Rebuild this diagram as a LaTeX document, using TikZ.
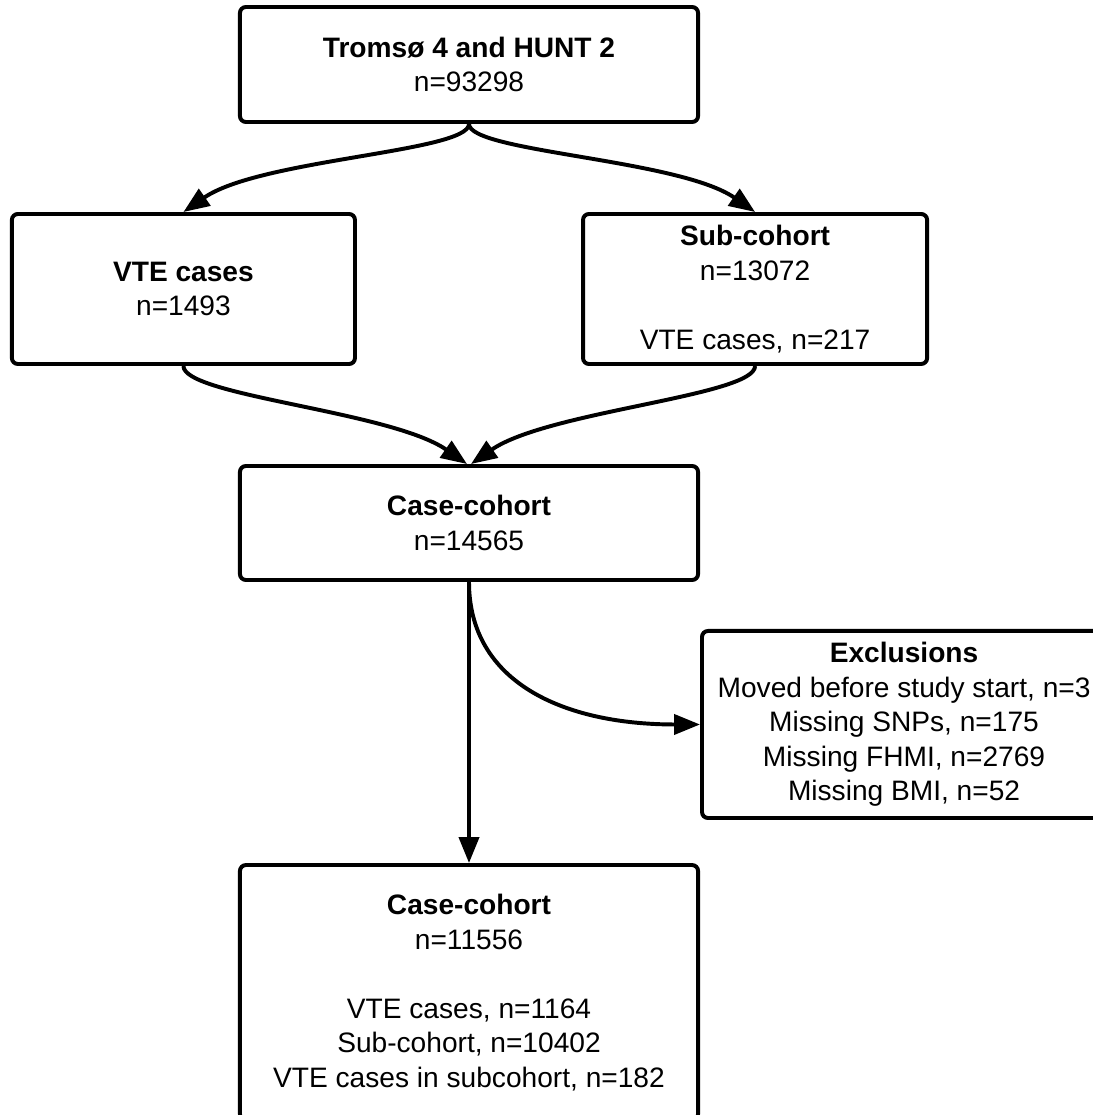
\documentclass[tikz,border=0pt]{standalone}
\usepackage{fontspec}
\setmainfont{Liberation Sans}
\usetikzlibrary{arrows.meta,positioning}

\begin{document}
\begin{tikzpicture}[
  x=0.025cm, y=-0.025cm,
  box/.style={rectangle, rounded corners=0.15cm, draw, line width=2.8pt, align=center, inner sep=0pt, font=\fontsize{20}{24.5}\selectfont},
  arrow/.style={-{Triangle[length=0.65cm, width=0.5cm]}, line width=2.8pt}
]
  \fill[white] (0,0) rectangle (1092,1115);
  \useasboundingbox (0,0) rectangle (1092,1115);
  \node[box, minimum width=11.45cm, minimum height=2.875cm] (tromso) at (469,64.5) {\textbf{Tromsø 4 and HUNT 2}\\n=93298};
  \node[box, minimum width=8.575cm, minimum height=3.75cm, below=2.2cm of tromso, xshift=-7.1375cm] (vte) {\textbf{VTE cases}\\n=1493};
  \node[box, minimum width=8.6cm, minimum height=3.75cm, below=2.2cm of tromso, xshift=7.15cm] (sub) {\textbf{Sub-cohort}\\n=13072\\[24.5pt]VTE cases, n=217};
  \node[box, minimum width=11.45cm, minimum height=2.85cm, below=2.45cm of vte, xshift=7.1375cm] (cc1) {\textbf{Case-cohort}\\n=14565};
  \node[box, minimum width=10.1cm, minimum height=4.675cm, below=1.175cm of cc1.south east, anchor=north west] (excl) {\textbf{Exclusions}\\Moved before study start, n=3\\Missing SNPs, n=175\\Missing FHMI, n=2769\\Missing BMI, n=52};
  \node[box, minimum width=11.45cm, minimum height=6.375cm, below=7.025cm of cc1] (cc2) {\textbf{Case-cohort}\\n=11556\\[24.5pt]VTE cases, n=1164\\Sub-cohort, n=10402\\VTE cases in subcohort, n=182};
  \draw[arrow] (tromso.south) .. controls +(0,28) and +(76.5,-53) .. (vte.north);
  \draw[arrow] (tromso.south) .. controls +(0,28) and +(-76.5,-53) .. (sub.north);
  \draw[arrow] (vte.south) .. controls +(0,30) and +(-76.5,-53) .. ([xshift=-0.05cm]cc1.north);
  \draw[arrow] (sub.south) .. controls +(0,30) and +(76.5,-53) .. ([xshift=0.05cm]cc1.north);
  \draw[arrow] (cc1.south) -- (cc2.north);
  \draw[arrow] (cc1.south) .. controls +(0,100) and +(-137,0) .. (excl.west);
\end{tikzpicture}
\end{document}
